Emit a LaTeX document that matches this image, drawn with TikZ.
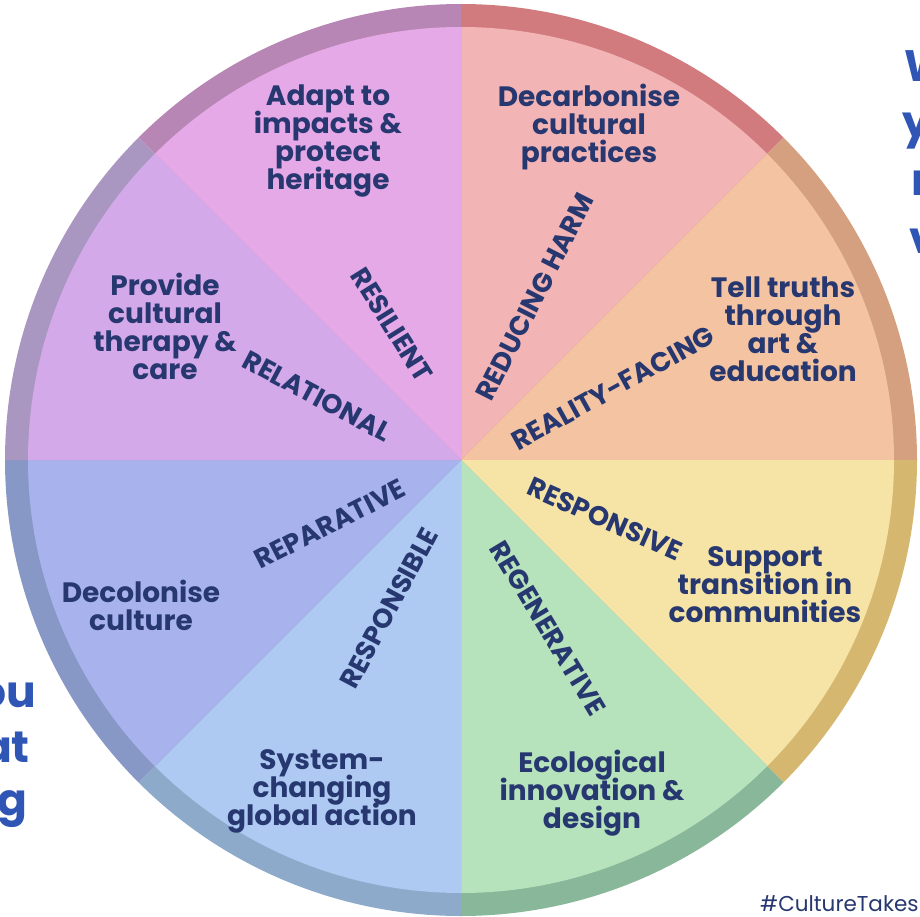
\documentclass[tikz,border=0pt]{standalone}
\usepackage{fontspec}
\newfontfamily\pop{Poppins}
\newcommand\mytightlines{\lineskiplimit=-100pt\relax}
\definecolor{navy}{HTML}{27376F}
\definecolor{sideblue}{HTML}{2F55B5}
\definecolor{fA}{HTML}{F2B4B4}\definecolor{rA}{HTML}{D17B7F}
\definecolor{fB}{HTML}{F4C4A2}\definecolor{rB}{HTML}{D4A07F}
\definecolor{fC}{HTML}{F6E4A6}\definecolor{rC}{HTML}{D5B76F}
\definecolor{fD}{HTML}{B6E2BC}\definecolor{rD}{HTML}{89B799}
\definecolor{fE}{HTML}{AECAF3}\definecolor{rE}{HTML}{8EAACB}
\definecolor{fF}{HTML}{A8B3EE}\definecolor{rF}{HTML}{8797C6}
\definecolor{fG}{HTML}{D3A9EA}\definecolor{rG}{HTML}{A996C1}
\definecolor{fH}{HTML}{E6A9E7}\definecolor{rH}{HTML}{B886B4}
\tikzset{
  lab/.style={font=\pop\bfseries\fontsize{28}{28}\selectfont\mytightlines, text=navy, align=center, inner sep=0pt},
  rlab/.style={font=\pop\bfseries\fontsize{27}{27}\selectfont, text=navy, inner sep=0pt},
  side/.style={font=\pop\bfseries\fontsize{44}{44}\selectfont, text=sideblue, inner sep=0pt},
}
\begin{document}
\begin{tikzpicture}[x=1pt,y=-1pt]
\useasboundingbox (0,0) rectangle (920,917);
\fill[white] (0,0) rectangle (920,917);
\coordinate (c) at (461,460);
% sectors: coordinate angle = - visual angle
\foreach \a/\b/\f/\r in {-90/-45/fA/rA, -45/0/fB/rB, 0/45/fC/rC, 45/90/fD/rD, 90/135/fE/rE, 135/180/fF/rF, 180/225/fG/rG, 225/270/fH/rH}{
  \fill[\r] (c) -- ++(\a:456) arc[start angle=\a, end angle=\b, radius=456] -- cycle;
  \fill[\f] (c) -- ++(\a:433) arc[start angle=\a, end angle=\b, radius=433] -- cycle;
}
% main labels
\node[lab] (adapt) at (328,141) {Adapt to\\impacts \&\\protect\\heritage};
\node[lab] (decarb) at (589,127) {Decarbonise\\cultural\\practices};
\node[lab] (truth) at (783,329) {Tell truths\\through\\art \&\\education};
\node[lab] (provide) at (165,326) {Provide\\cultural\\therapy \&\\care};
\node[lab] (decol) at (141,605) {Decolonise\\culture};
\node[lab] (support) at (765,585) {Support\\transition in\\communities};
\node[lab] (system) at (322,791) {System-\\changing\\global action};
\node[lab] (eco) at (592,793) {Ecological\\innovation \&\\design};
% rotated labels
\node[rlab, rotate=-58] (resilient) at (392,325) {RESILIENT};
\node[rlab, rotate=63] (reducing) at (535,297) {REDUCING HARM};
\node[rlab, rotate=29] (reality) at (613,388) {REALITY-FACING};
\node[rlab, rotate=-28] (relational) at (317,396) {RELATIONAL};
\node[rlab, rotate=27] (reparative) at (330,524) {REPARATIVE};
\node[rlab, rotate=62] (responsible) at (389,608) {RESPONSIBLE};
\node[rlab, rotate=-59] (regen) at (548,628) {REGENERATIVE};
\node[rlab, rotate=-24] (responsive) at (605,519) {RESPONSIVE};
% side fragments
\node[side, anchor=base west] (s1) at (904,82) {W};
\node[side, anchor=base west] (s2) at (902,138) {y};
\node[side, anchor=base west] (s3) at (911,196) {r};
\node[side, anchor=base west] (s4) at (909,254) {v};
\node[side, anchor=base east] (l1) at (36,707) {ou};
\node[side, anchor=base east] (l2) at (30,762) {at};
\node[side, anchor=base east] (l3) at (28,815) {g};
\node[font=\pop\fontsize{21.5}{21.5}\selectfont, text=navy, anchor=base west, inner sep=0pt] (tag) at (760,911) {\#CultureTakes};
\end{tikzpicture}
\end{document}
